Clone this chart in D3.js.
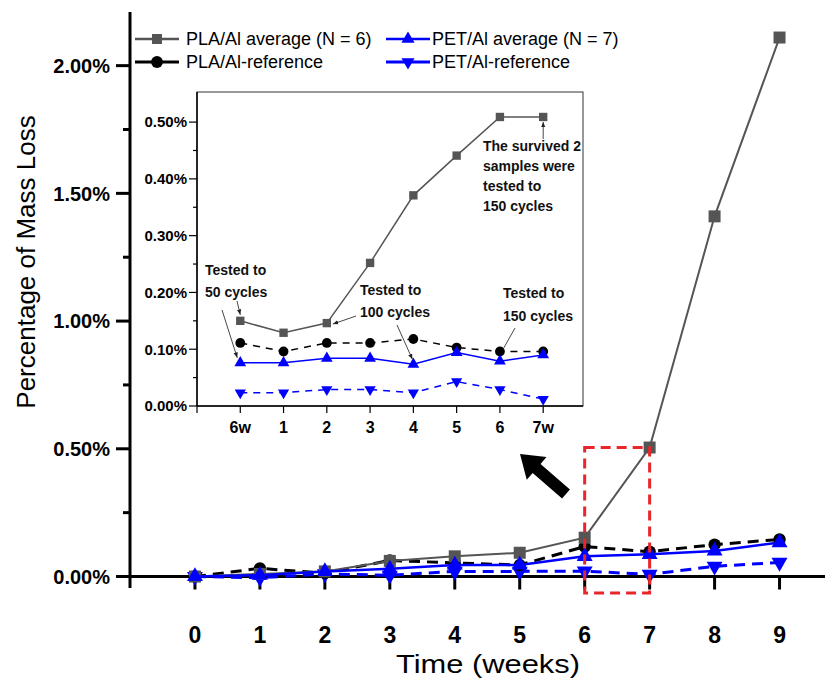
<!DOCTYPE html>
<html>
<head>
<meta charset="utf-8">
<script src="https://cdn.jsdelivr.net/npm/d3@7"></script>
<style>
  body { margin: 0; background: #fff; }
  svg { display: block; font-family: "Liberation Sans", Arial, sans-serif; }
</style>
</head>
<body>
<svg id="chart" width="833" height="679"></svg>
<script>
// main chart data (percent mass loss by week)
var weeks = [0, 1, 2, 3, 4, 5, 6, 7, 8, 9];
var plaAvg = [0, 0.01, 0.02, 0.061, 0.079, 0.093, 0.152, 0.505, 1.41, 2.11];
var plaRef = [0, 0.032, 0.013, 0.063, 0.053, 0.045, 0.117, 0.097, 0.125, 0.145];
var petAvg = [0, 0.005, 0.02, 0.03, 0.045, 0.045, 0.079, 0.087, 0.1, 0.133];
var petRef = [0, -0.005, 0.01, 0.005, 0.02, 0.02, 0.021, 0.008, 0.04, 0.055];
var yTicks = [0, 0.5, 1, 1.5, 2];
var yMinor = [0.25, 0.75, 1.25, 1.75];

// inset data (week 6 to week 7, by day)
var insetLabels = ['6w', '1', '2', '3', '4', '5', '6', '7w'];
var insetPlaAvg = [0.150, 0.129, 0.146, 0.252, 0.371, 0.441, 0.509, 0.509];
var insetPlaRef = [0.111, 0.096, 0.111, 0.111, 0.118, 0.103, 0.096, 0.096];
var insetPetAvg = [0.076, 0.076, 0.084, 0.084, 0.0735, 0.094, 0.079, 0.090];
var insetPetRef = [0.0235, 0.0235, 0.029, 0.029, 0.0235, 0.043, 0.029, 0.012];
var insetYTicks = [0, 0.1, 0.2, 0.3, 0.4, 0.5];
var insetYMinor = [0.05, 0.15, 0.25, 0.35, 0.45];

var svg = d3.select('#chart');
var grey = '#555555', blue = '#0000ff';
var fmt = function(v){ return v.toFixed(2) + '%'; };

var x = d3.scaleLinear().domain([-1, 9.7]).range([130, 825]);
var y = d3.scaleLinear().domain([-0.045, 2.21]).range([588, 12]);

// axes
var g = svg.append('g');
g.append('line').attr('x1', x(-1)).attr('x2', x(-1)).attr('y1', y(-0.045)).attr('y2', y(2.21))
  .attr('stroke', '#000').attr('stroke-width', 3);
g.append('line').attr('x1', x(-1) - 1).attr('x2', x(9.7)).attr('y1', y(0)).attr('y2', y(0))
  .attr('stroke', '#000').attr('stroke-width', 3);

yTicks.forEach(function(t){
  g.append('line').attr('x1', x(-1) - 14).attr('x2', x(-1)).attr('y1', y(t)).attr('y2', y(t))
    .attr('stroke', '#000').attr('stroke-width', 3);
  g.append('text').attr('x', 110).attr('y', y(t)).attr('dy', '0.36em')
    .attr('text-anchor', 'end').attr('font-size', 20).attr('font-weight', 'bold')
    .text(fmt(t));
});
yMinor.forEach(function(t){
  g.append('line').attr('x1', x(-1) - 7).attr('x2', x(-1)).attr('y1', y(t)).attr('y2', y(t))
    .attr('stroke', '#000').attr('stroke-width', 3);
});
weeks.forEach(function(w){
  g.append('line').attr('x1', x(w)).attr('x2', x(w)).attr('y1', y(0)).attr('y2', y(0) + 13)
    .attr('stroke', '#000').attr('stroke-width', 3);
  g.append('text').attr('x', x(w)).attr('y', 643).attr('text-anchor', 'middle')
    .attr('font-size', 23).attr('font-weight', 'bold').text(w);
});

g.append('text').attr('x', 488).attr('y', 673).attr('text-anchor', 'middle')
  .attr('font-size', 26).attr('textLength', 184).attr('lengthAdjust', 'spacingAndGlyphs')
  .text('Time (weeks)');
g.append('text').attr('transform', 'translate(35,262) rotate(-90)').attr('text-anchor', 'middle')
  .attr('font-size', 26).text('Percentage of Mass Loss');

// series helper
function drawSeries(parent, xs, ys, vals, opt){
  var line = d3.line().x(function(d, i){ return xs(i); }).y(function(d){ return ys(d); });
  parent.append('path').datum(vals).attr('d', line).attr('fill', 'none')
    .attr('stroke', opt.color).attr('stroke-width', opt.width)
    .attr('stroke-dasharray', opt.dash || null);
  var sym = d3.symbol().type(opt.symbol).size(opt.size);
  parent.selectAll(null).data(vals).enter().append('path')
    .attr('d', sym)
    .attr('transform', function(d, i){
      return 'translate(' + xs(i) + ',' + ys(d) + ')' + (opt.flip ? ' rotate(180)' : '');
    })
    .attr('fill', opt.color);
}

var xMain = function(i){ return x(weeks[i]); };
var main = svg.append('g');
drawSeries(main, xMain, y, petRef, {color: blue, width: 3, dash: '11,7', symbol: d3.symbolTriangle, size: 110, flip: true});
drawSeries(main, xMain, y, plaRef, {color: '#000', width: 3, dash: '11,7', symbol: d3.symbolCircle, size: 120});
drawSeries(main, xMain, y, plaAvg, {color: grey, width: 2, symbol: d3.symbolSquare, size: 144});
drawSeries(main, xMain, y, petAvg, {color: blue, width: 2.5, symbol: d3.symbolTriangle, size: 110});

// red dashed box around weeks 6-7
main.append('rect').attr('x', x(6)).attr('y', y(0.505))
  .attr('width', x(7) - x(6)).attr('height', 593 - y(0.505))
  .attr('fill', 'none').attr('stroke', '#e8262a').attr('stroke-width', 3)
  .attr('stroke-dasharray', '10,6');

// block arrow pointing to inset
var ax0 = 566, ay0 = 494, ax1 = 520, ay1 = 454;
var len = Math.hypot(ax1 - ax0, ay1 - ay0);
var ang = Math.atan2(ay1 - ay0, ax1 - ax0) * 180 / Math.PI;
main.append('path')
  .attr('d', 'M0,-6 L' + (len - 22) + ',-6 L' + (len - 22) + ',-15 L' + len + ',0 L' + (len - 22) + ',15 L' + (len - 22) + ',6 L0,6 Z')
  .attr('transform', 'translate(' + ax0 + ',' + ay0 + ') rotate(' + ang + ')')
  .attr('fill', '#000');

// legend
var legendItems = [
  {label: 'PLA/Al average (N = 6)', color: grey, symbol: d3.symbolSquare, size: 100, x: 135, tx: 51, y: 39, w: 2.5},
  {label: 'PLA/Al-reference', color: '#000', symbol: d3.symbolCircle, size: 110, x: 135, tx: 51, y: 62, w: 3},
  {label: 'PET/Al average (N = 7)', color: blue, symbol: d3.symbolTriangle, size: 75, x: 386, tx: 46, y: 39, w: 2.5},
  {label: 'PET/Al-reference', color: blue, symbol: d3.symbolTriangle, size: 75, flip: true, x: 386, tx: 46, y: 62, w: 3}
];
var leg = svg.append('g');
legendItems.forEach(function(it){
  leg.append('line').attr('x1', it.x).attr('x2', it.x + 44).attr('y1', it.y).attr('y2', it.y)
    .attr('stroke', it.color).attr('stroke-width', it.w);
  leg.append('path').attr('d', d3.symbol().type(it.symbol).size(it.size))
    .attr('transform', 'translate(' + (it.x + 22) + ',' + it.y + ')' + (it.flip ? ' rotate(180)' : ''))
    .attr('fill', it.color);
  leg.append('text').attr('x', it.x + it.tx).attr('y', it.y).attr('dy', '0.35em')
    .attr('font-size', 18).text(it.label);
});

// ---- inset ----
var ix = d3.scaleLinear().domain([-1, 7.92]).range([197, 583]);
var iy = d3.scaleLinear().domain([0, 0.553]).range([406, 92]);
var ins = svg.append('g');
ins.append('rect').attr('x', ix(-1)).attr('y', iy(0.553)).attr('width', ix(7.92) - ix(-1))
  .attr('height', iy(0) - iy(0.553)).attr('fill', '#fff').attr('stroke', '#333').attr('stroke-width', 1);
ins.append('line').attr('x1', ix(-1)).attr('x2', ix(-1)).attr('y1', iy(0)).attr('y2', iy(0.553))
  .attr('stroke', '#000').attr('stroke-width', 1.5);
ins.append('line').attr('x1', ix(-1)).attr('x2', ix(7.92)).attr('y1', iy(0)).attr('y2', iy(0))
  .attr('stroke', '#000').attr('stroke-width', 1.5);

insetYTicks.forEach(function(t){
  ins.append('line').attr('x1', ix(-1) - 8).attr('x2', ix(-1)).attr('y1', iy(t)).attr('y2', iy(t))
    .attr('stroke', '#000').attr('stroke-width', 1.2);
  ins.append('text').attr('x', 187).attr('y', iy(t)).attr('dy', '0.36em').attr('text-anchor', 'end')
    .attr('font-size', 15).attr('font-weight', 'bold').text(fmt(t));
});
insetYMinor.forEach(function(t){
  ins.append('line').attr('x1', ix(-1) - 4).attr('x2', ix(-1)).attr('y1', iy(t)).attr('y2', iy(t))
    .attr('stroke', '#000').attr('stroke-width', 1.2);
});
ins.append('line').attr('x1', ix(-1)).attr('x2', ix(-1)).attr('y1', iy(0)).attr('y2', iy(0) + 7)
  .attr('stroke', '#000').attr('stroke-width', 1.2);
insetLabels.forEach(function(l, i){
  ins.append('line').attr('x1', ix(i)).attr('x2', ix(i)).attr('y1', iy(0)).attr('y2', iy(0) + 7)
    .attr('stroke', '#000').attr('stroke-width', 1.2);
  ins.append('text').attr('x', ix(i)).attr('y', 433).attr('text-anchor', 'middle')
    .attr('font-size', 16).attr('font-weight', 'bold').text(l);
});

drawSeries(ins, ix, iy, insetPetRef, {color: blue, width: 1.5, dash: '7,6', symbol: d3.symbolTriangle, size: 55, flip: true});
drawSeries(ins, ix, iy, insetPlaRef, {color: '#000', width: 1.5, dash: '7,6', symbol: d3.symbolCircle, size: 75});
drawSeries(ins, ix, iy, insetPlaAvg, {color: grey, width: 1.5, symbol: d3.symbolSquare, size: 70});
drawSeries(ins, ix, iy, insetPetAvg, {color: blue, width: 1.5, symbol: d3.symbolTriangle, size: 60});

// annotations
svg.append('defs').append('marker').attr('id', 'ah').attr('viewBox', '0 0 10 10')
  .attr('refX', 10).attr('refY', 5).attr('markerWidth', 6).attr('markerHeight', 6)
  .attr('orient', 'auto').append('path').attr('d', 'M0,1 L10,5 L0,9 Z').attr('fill', '#222');

function note(lines, tx, ty, gap){
  lines.forEach(function(s, k){
    ins.append('text').attr('x', tx).attr('y', ty + k * gap).attr('font-size', 14)
      .attr('font-weight', 'bold').attr('fill', '#111').text(s);
  });
}
function pointer(x1, y1, x2, y2, head){
  ins.append('line').attr('x1', x1).attr('y1', y1).attr('x2', x2).attr('y2', y2)
    .attr('stroke', '#333').attr('stroke-width', 0.9)
    .attr('marker-end', head ? 'url(#ah)' : null);
}
note(['Tested to', '50 cycles'], 205, 275, 22);
pointer(237, 301, ix(0), iy(insetPlaAvg[0]) - 6, true);
pointer(222, 310, ix(0) - 3, iy(insetPetAvg[0]) - 5, true);

note(['Tested to', '100 cycles'], 360, 295, 22);
pointer(356, 316, ix(2) + 6, iy(insetPlaAvg[2]) + 1, true);
pointer(397, 325, ix(4) - 1, iy(insetPetAvg[4]) - 5, true);

note(['Tested to', '150 cycles'], 503, 298, 23);
pointer(515, 328, ix(6) + 3, iy(insetPlaRef[6]) - 2, false);

note(['The survived 2', 'samples were', 'tested to', '150 cycles'], 483, 151, 20);
pointer(ix(7), 139, ix(7), iy(insetPlaAvg[7]) + 5, true);
</script>
</body>
</html>
